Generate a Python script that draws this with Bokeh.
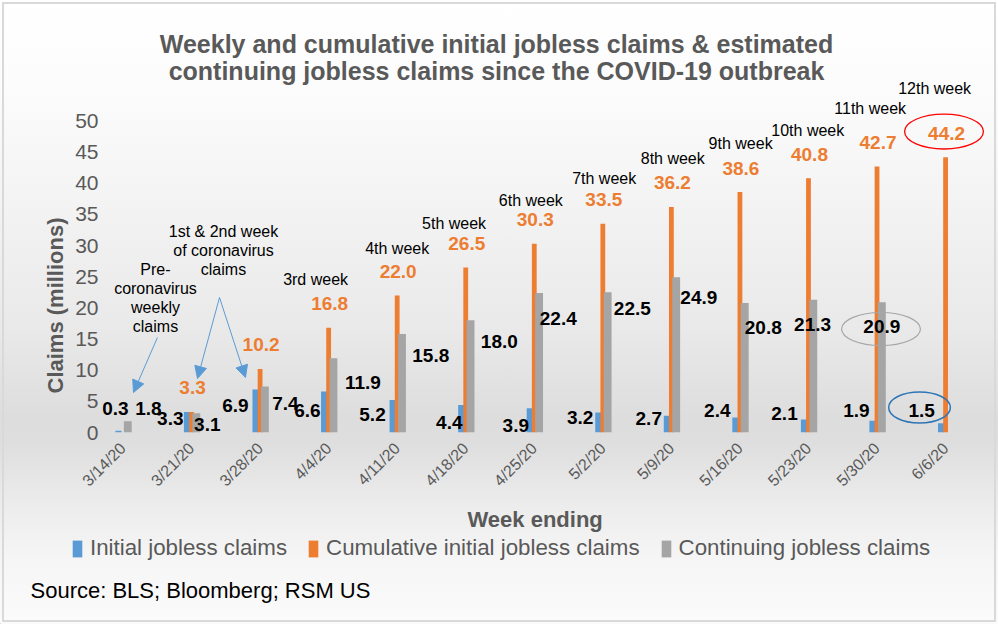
import math
from bokeh.plotting import figure
from bokeh.models import (ColumnDataSource, Range1d, FixedTicker, Legend, LegendItem,
                          Arrow, NormalHead, Title)
from bokeh.transform import dodge
from bokeh.core.properties import value
from bokeh.embed import file_html
from bokeh.resources import INLINE

NaN = float("nan")

# ---------------- data ----------------
weeks = ["3/14/20", "3/21/20", "3/28/20", "4/4/20", "4/11/20", "4/18/20", "4/25/20",
         "5/2/20", "5/9/20", "5/16/20", "5/23/20", "5/30/20", "6/6/20"]
initial = [0.3, 3.3, 6.9, 6.6, 5.2, 4.4, 3.9, 3.2, 2.7, 2.4, 2.1, 1.9, 1.5]
cumulative = [NaN, 3.3, 10.2, 16.8, 22.0, 26.5, 30.3, 33.5, 36.2, 38.6, 40.8, 42.7, 44.2]
continuing = [1.8, 3.1, 7.4, 11.9, 15.8, 18.0, 22.4, 22.5, 24.9, 20.8, 21.3, 20.9, NaN]
week_names = ["3rd week", "4th week", "5th week", "6th week", "7th week", "8th week",
              "9th week", "10th week", "11th week", "12th week"]
y_ticks = [0, 5, 10, 15, 20, 25, 30, 35, 40, 45, 50]
series_names = ["Initial jobless claims", "Cumulative initial jobless claims",
                "Continuing jobless claims"]

# ---------------- label placement (positions only) ----------------
init_lbl_dx = [-0.11, -0.31, -0.36, -0.31, -0.36, -0.24, -0.27, -0.33, -0.33, -0.33, -0.35, -0.30, -0.35]
init_lbl_y = [3.85, 2.25, 4.33, 3.53, 2.89, 1.61, 1.12, 2.41, 2.25, 3.53, 3.05, 3.53, 3.53]
cont_lbl_dx = [0.37, 0.23, 0.37, 0.50, 0.49, 0.49, 0.35, 0.43, 0.40, 0.34, 0.06, 0.07]
cont_lbl_y = [3.85, 1.28, 4.65, 8.03, 12.36, 14.61, 18.30, 19.9, 21.67, 16.85, 17.34, 17.01]
week_lbl_x = [2.81, 4.00, 4.83, 5.95, 7.02, 8.02, 9.01, 9.99, 10.90, 11.84]
week_lbl_y = [24.56, 29.53, 33.55, 37.24, 40.77, 43.98, 46.39, 48.48, 52.01, 55.22]

FONT = "Liberation Sans"
BLUE, ORANGE, GREY = "#5B9BD5", "#ED7D31", "#A5A5A5"
TXT = "#595959"

n = len(weeks)
xs = list(range(n))

p = figure(width=998, height=624, x_range=Range1d(-0.328, 12.772), y_range=Range1d(0, 69.34),
           output_backend="svg", toolbar_location=None,
           min_border_left=100, min_border_right=0, min_border_top=0, min_border_bottom=192)
p.title.visible = False
p.background_fill_alpha = 0
p.border_fill_alpha = 0
p.outline_line_color = None
p.xgrid.visible = False
p.ygrid.visible = False
p.styles = {
    "background-image": "linear-gradient(to bottom, #ffffff 0%, #fcfcfc 14%, #f3f3f3 33%, "
                        "#e9e9e9 53%, #dddddd 67%, #dedede 71%, #ebebeb 80%, #f6f6f6 90%, #fbfbfb 100%)",
    "outline": "2px solid #d9d9d9",
    "outline-offset": "-4px",
}

# axes
p.yaxis.ticker = FixedTicker(ticks=y_ticks)
p.yaxis.axis_line_color = None
p.yaxis.major_tick_line_color = None
p.yaxis.minor_tick_line_color = None
p.yaxis.major_tick_out = 0
p.yaxis.minor_tick_out = 0
p.yaxis.major_label_standoff = 2
p.yaxis.major_label_text_font = FONT
p.yaxis.major_label_text_font_size = "21px"
p.yaxis.major_label_text_color = TXT

p.xaxis.ticker = FixedTicker(ticks=xs)
p.xaxis.major_label_overrides = {i: w for i, w in enumerate(weeks)}
p.xaxis.major_label_orientation = math.pi / 4
p.xaxis.axis_line_color = None
p.xaxis.major_tick_line_color = None
p.xaxis.minor_tick_line_color = None
p.xaxis.major_tick_out = 0
p.xaxis.minor_tick_out = 0
p.xaxis.major_label_standoff = 13
p.xaxis.major_label_text_font = FONT
p.xaxis.major_label_text_font_size = "16px"
p.xaxis.major_label_text_color = TXT

src = ColumnDataSource(dict(x=xs, initial=initial, cumulative=cumulative, continuing=continuing,
                            cum_txt=["" if math.isnan(v) else f"{v:.1f}" for v in cumulative]))

r1 = p.vbar(x=dodge("x", -0.066), top="initial", width=0.09, source=src,
            fill_color=BLUE, line_color=None)
r2 = p.vbar(x=dodge("x", 0.0), top="cumulative", width=0.07, source=src,
            fill_color=ORANGE, line_color=None)
r3 = p.vbar(x=dodge("x", 0.07), top="continuing", width=0.115, source=src,
            fill_color=GREY, line_color=None)

# data labels
init_src = ColumnDataSource(dict(x=[i + d for i, d in zip(xs, init_lbl_dx)], y=init_lbl_y,
                                 t=[f"{v:.1f}" for v in initial]))
p.text(x="x", y="y", text="t", source=init_src, text_font=value(FONT), text_font_style="bold",
       text_font_size="19px", text_color="black", text_align="center", text_baseline="middle")

cont_vals = [v for v in continuing if not math.isnan(v)]
cont_src = ColumnDataSource(dict(x=[i + d for i, d in zip(xs, cont_lbl_dx)], y=cont_lbl_y,
                                 t=[f"{v:.1f}" for v in cont_vals]))
p.text(x="x", y="y", text="t", source=cont_src, text_font=value(FONT), text_font_style="bold",
       text_font_size="19px", text_color="black", text_align="center", text_baseline="middle")

p.text(x="x", y="cumulative", text="cum_txt", source=src, x_offset=1, y_offset=-24,
       text_font=value(FONT), text_font_style="bold", text_font_size="19px",
       text_color=ORANGE, text_align="center", text_baseline="middle")

# week annotations
wk_src = ColumnDataSource(dict(x=week_lbl_x, y=week_lbl_y, t=week_names))
p.text(x="x", y="y", text="t", source=wk_src, text_font=value(FONT), text_font_size="16px",
       text_color="black", text_align="center", text_baseline="middle")

pre_lines = ["Pre-", "coronavirus", "weekly", "claims"]
pre_y = [26.16, 23.11, 20.06, 17.01]
first_lines = ["1st & 2nd week", "of coronavirus", "claims"]
first_y = [32.26, 29.29, 26.16]
note_src = ColumnDataSource(dict(x=[0.474] * 4 + [1.466] * 3, y=pre_y + first_y,
                                 t=pre_lines + first_lines))
p.text(x="x", y="y", text="t", source=note_src, text_font=value(FONT), text_font_size="16px",
       text_color="black", text_align="center", text_baseline="middle")

# chart title (drawn in the upper part of the frame, above the bars)
title_src = ColumnDataSource(dict(x=[5.449, 5.449], y=[62.28, 57.95],
                                  t=["Weekly and cumulative initial jobless claims & estimated",
                                     "continuing jobless claims since the COVID-19 outbreak"]))
p.text(x="x", y="y", text="t", source=title_src, text_font=value(FONT), text_font_style="bold",
       text_font_size="25px", text_color=TXT, text_align="center", text_baseline="middle")

# arrows
for (x0, y0, x1, y1) in [(0.503, 15.25, 0.153, 6.42), (1.408, 21.67, 1.087, 8.67),
                         (1.408, 21.67, 1.787, 8.83)]:
    p.add_layout(Arrow(end=NormalHead(size=12, fill_color=BLUE, line_color=BLUE),
                       x_start=x0, y_start=y0, x_end=x1, y_end=y1,
                       line_color=BLUE, line_width=1))

# highlight ellipses around last labels
p.ellipse(x=[12 - 0.023], y=[cumulative[12] + 24 / 6.232 + 0.25], width=1.15, height=5.6,
          fill_color=None, line_color="#FF0000", line_width=1.3)
p.ellipse(x=[11 + 0.058], y=[cont_lbl_y[11] - 0.4], width=1.15, height=5.3,
          fill_color=None, line_color="#A6A6A6", line_width=1.2)
p.ellipse(x=[12 - 0.38], y=[init_lbl_y[12] + 0.48], width=0.9, height=5.0,
          fill_color=None, line_color="#2E75B6", line_width=1.5)

# axis titles
p.add_layout(Title(text="Claims (millions)", align="left", offset=39, text_font=FONT,
                   text_font_style="bold", text_font_size="22px", text_color=TXT), "left")
p.add_layout(Title(text="Week ending", align="left", offset=367, standoff=12, text_font=FONT,
                   text_font_style="bold", text_font_size="22px", text_color=TXT), "below")

# ---------------- bottom strip (transparent overlay): legend + source ----------------
p2 = figure(width=998, height=90, x_range=Range1d(0, 998), y_range=Range1d(0, 90),
            output_backend="svg", toolbar_location=None, min_border=0,
            x_axis_location=None, y_axis_location=None)
p2.title.visible = False
p2.background_fill_alpha = 0
p2.border_fill_alpha = 0
p2.outline_line_color = None
p2.xgrid.visible = False
p2.ygrid.visible = False
p2.styles = {"position": "absolute", "top": "534px", "left": "0px"}

# legend swatches (one bar each, placed outside the visible range)
d1 = p2.vbar(x=[-50], top=[1], width=1, fill_color=BLUE, line_color=None)
d2 = p2.vbar(x=[-50], top=[1], width=1, fill_color=ORANGE, line_color=None)
d3 = p2.vbar(x=[-50], top=[1], width=1, fill_color=GREY, line_color=None)

legend = Legend(items=[LegendItem(label=series_names[0], renderers=[d1]),
                       LegendItem(label=series_names[1], renderers=[d2]),
                       LegendItem(label=series_names[2], renderers=[d3])],
                location=(71, 63), orientation="horizontal",
                label_text_font=FONT, label_text_font_size="22.3px", label_text_color=TXT,
                glyph_width=12, glyph_height=21, label_standoff=7, spacing=20,
                padding=0, margin=0, border_line_color=None, background_fill_alpha=0)
p2.add_layout(legend)

p2.text(x=[30], y=[34], text=["Source: BLS; Bloomberg; RSM US"], text_font=value(FONT),
        text_font_size="22px", text_color="black", text_align="left", text_baseline="middle")

open("out.html", "w").write(file_html([p, p2], INLINE))
